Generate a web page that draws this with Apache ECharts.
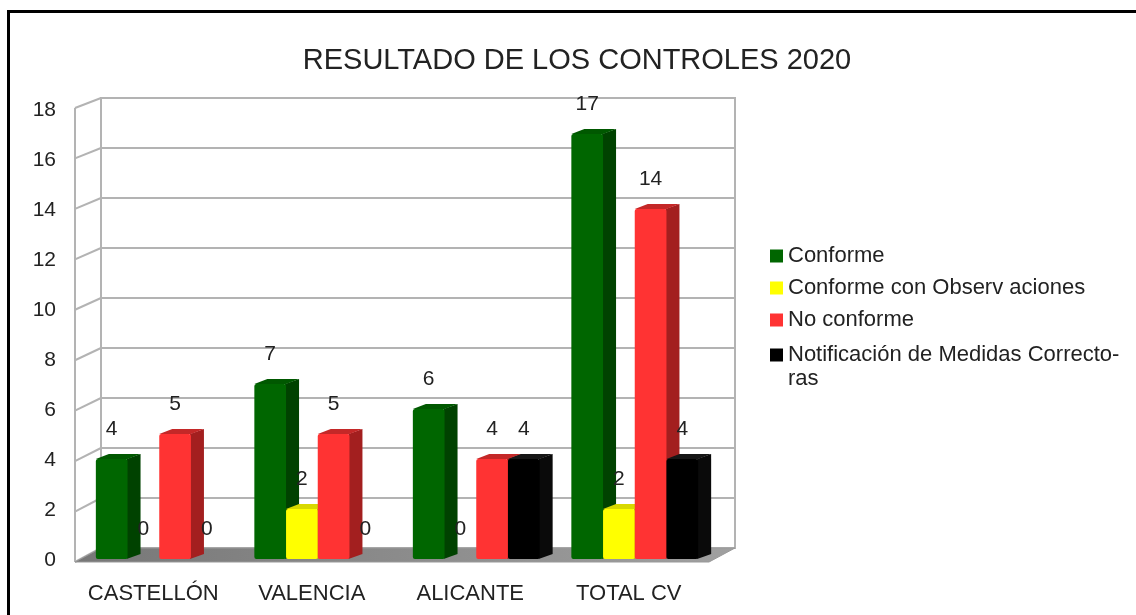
<!DOCTYPE html>
<html>
<head>
<meta charset="utf-8">
<script src="https://cdn.jsdelivr.net/npm/echarts@6/dist/echarts.min.js"></script>
<style>
  html, body { margin: 0; padding: 0; background: #fff; }
  #chart { width: 1136px; height: 615px; }
</style>
</head>
<body>
<div id="chart"></div>
<script>
const categories = ['CASTELLÓN', 'VALENCIA', 'ALICANTE', 'TOTAL CV']
const conforme = [4, 7, 6, 17]
const conformeObs = [0, 2, 0, 2]
const noConforme = [5, 5, 4, 14]
const notificacion = [0, 0, 4, 4]
const yTicks = [0, 2, 4, 6, 8, 10, 12, 14, 16, 18]

const FONT = '"Liberation Sans", Arial, sans-serif'
const TXT = '#222'
const GRID_LINE = '#b3b3b3'
// depth of the box (back wall -> front edge), pixels
const DEPTH_X = -26

const chart = echarts.init(document.getElementById('chart'))

// one 3D-looking bar series, slot = position inside the category group
function barSeries (name, values, slot, c) {
  return {
    name: name,
    type: 'custom',
    coordinateSystem: 'cartesian2d',
    itemStyle: { color: c.front },
    data: values.map((v, i) => [i, v]),
    z: 3,
    renderItem: function (params, api) {
      const cat = api.value(0)
      const v = api.value(1)
      const base = api.coord([cat, 0])
      const top = api.coord([cat, v])
      const band = api.size([1, 0])[0]
      const w = band * 0.2
      const x = base[0] - 21 - 2 * w + slot * w
      const yb = base[1] + 11
      const yt = top[1] + 11
      const dx = 13
      const dy = -5
      const children = []
      if (v > 0) {
        children.push({
          type: 'polygon',
          shape: { points: [[x + w - 1, yt], [x + w + dx, yt + dy], [x + w + dx, yb + dy], [x + w - 1, yb]] },
          style: { fill: c.side }
        })
        children.push({
          type: 'polygon',
          shape: { points: [[x, yt], [x + dx, yt + dy], [x + w + dx, yt + dy], [x + w, yt]] },
          style: { fill: c.top }
        })
        children.push({
          type: 'rect',
          shape: { x: x, y: yt, width: w, height: yb - yt, r: 2 },
          style: { fill: c.front }
        })
      }
      children.push({
        type: 'text',
        style: {
          text: String(v),
          x: x + w / 2,
          y: yt - 30,
          fill: TXT,
          fontSize: 21,
          fontFamily: FONT,
          align: 'center',
          verticalAlign: 'middle'
        }
      })
      return { type: 'group', children: children }
    }
  }
}

// left wall + floor of the 3D box
const frameSeries = {
  type: 'custom',
  coordinateSystem: 'cartesian2d',
  silent: true,
  z: 2,
  data: yTicks.map(t => [0, t]),
  renderItem: function (params, api) {
    const t = api.value(1)
    const gx = params.coordSys.x
    const gw = params.coordSys.width
    const by = api.coord([0, t])[1]
    const by0 = api.coord([0, 0])[1]
    const byMax = api.coord([0, 18])[1]
    const frontDy = v => 14 - 4 * v / 18
    const children = [{
      type: 'line',
      shape: { x1: gx, y1: by, x2: gx + DEPTH_X, y2: by + frontDy(t) },
      style: { stroke: GRID_LINE, lineWidth: 2 }
    }]
    if (params.dataIndex === 0) {
      children.push({
        type: 'line',
        shape: { x1: gx + DEPTH_X, y1: by0 + frontDy(0), x2: gx + DEPTH_X, y2: byMax + frontDy(18) },
        style: { stroke: GRID_LINE, lineWidth: 2 }
      })
      children.push({
        type: 'polygon',
        shape: { points: [[gx, by0], [gx + gw, by0], [gx + gw + DEPTH_X, by0 + 14], [gx + DEPTH_X, by0 + 14]] },
        style: {
          fill: new echarts.graphic.LinearGradient(0, 0, 1, 0, [
            { offset: 0, color: '#777777' },
            { offset: 1, color: '#a0a0a0' }
          ]),
          stroke: '#999999',
          lineWidth: 1
        }
      })
    }
    return { type: 'group', children: children }
  }
}

const option = {
  backgroundColor: '#fff',
  title: {
    text: 'RESULTADO DE LOS CONTROLES 2020',
    left: 572,
    top: 41,
    textAlign: 'center',
    textStyle: { fontSize: 29, fontWeight: 'normal', color: TXT, fontFamily: FONT }
  },
  graphic: [{
    type: 'rect',
    silent: true,
    shape: { x: 8.5, y: 11.5, width: 1200, height: 700 },
    style: { fill: 'none', stroke: '#000', lineWidth: 3 }
  }],
  legend: [{
    data: ['Conforme', 'Conforme con Observaciones', 'No conforme'],
    orient: 'vertical',
    left: 770,
    top: 244,
    padding: 0,
    icon: 'rect',
    itemWidth: 13,
    itemHeight: 13,
    itemGap: 8,
    selectedMode: false,
    formatter: name => name === 'Conforme con Observaciones' ? 'Conforme con Observ aciones' : name,
    textStyle: { fontSize: 22, lineHeight: 24, color: TXT, fontFamily: FONT }
  }, {
    data: ['Notificación de Medidas Correctoras'],
    orient: 'vertical',
    left: 770,
    top: 319,
    padding: 0,
    icon: 'rect',
    itemWidth: 13,
    itemHeight: 13,
    selectedMode: false,
    // leading empty line keeps the first text line level with the icon
    formatter: () => '\nNotificación de Medidas Correcto-\nras',
    textStyle: { fontSize: 22, lineHeight: 24, color: TXT, fontFamily: FONT }
  }],
  grid: {
    left: 101,
    top: 98,
    width: 634,
    height: 450,
    show: true,
    borderColor: GRID_LINE,
    borderWidth: 2,
    backgroundColor: 'transparent'
  },
  xAxis: {
    type: 'category',
    data: categories,
    axisLine: { show: false },
    axisTick: { show: false },
    axisLabel: {
      interval: 0,
      margin: 35,
      padding: [0, 54, 0, 0],
      fontSize: 22,
      color: TXT,
      fontFamily: FONT
    }
  },
  yAxis: {
    type: 'value',
    min: 0,
    max: 18,
    interval: 2,
    axisLine: { show: false },
    axisTick: { show: false },
    splitLine: { lineStyle: { color: GRID_LINE, width: 2 } },
    axisLabel: {
      margin: 45,
      verticalAlign: 'top',
      lineHeight: 24,
      fontSize: 21,
      color: TXT,
      fontFamily: FONT
    }
  },
  series: [
    frameSeries,
    barSeries('Conforme', conforme, 0, { front: '#006600', side: '#004200', top: '#005800' }),
    barSeries('Conforme con Observaciones', conformeObs, 1, { front: '#ffff00', side: '#bdbd00', top: '#d8d800' }),
    barSeries('No conforme', noConforme, 2, { front: '#ff3333', side: '#a31f1f', top: '#c42828' }),
    barSeries('Notificación de Medidas Correctoras', notificacion, 3, { front: '#000000', side: '#0a0a0a', top: '#161616' })
  ]
}

chart.setOption(option)
</script>
</body>
</html>
